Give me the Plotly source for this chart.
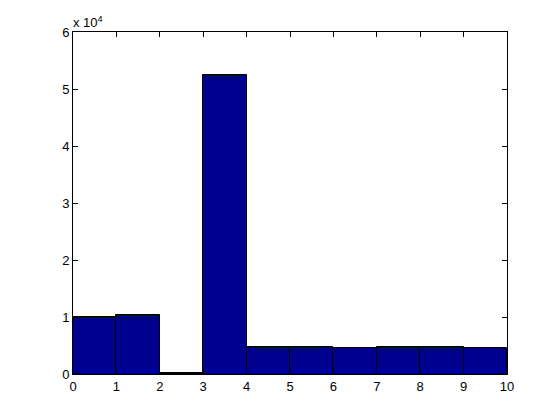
import plotly.graph_objects as go

bin_centers = [0.5, 1.5, 2.5, 3.5, 4.5, 5.5, 6.5, 7.5, 8.5, 9.5]
counts = [9950, 10400, 100, 52500, 4750, 4750, 4500, 4750, 4750, 4500]
y_tick_vals = [0, 10000, 20000, 30000, 40000, 50000, 60000]
y_tick_text = ["0", "1", "2", "3", "4", "5", "6"]
x_tick_vals = list(range(0, 11))

FONT = "Liberation Sans, Arial, sans-serif"

fig = go.Figure()
fig.add_trace(go.Bar(
    x=bin_centers, y=counts, width=1,
    marker=dict(color="#00008F", line=dict(color="black", width=1)),
))

axis_common = dict(
    showgrid=False, zeroline=False, showline=True, linecolor="black", linewidth=1,
    mirror="ticks", ticks="inside", ticklen=5, tickcolor="black", tickwidth=1,
    tickfont=dict(family=FONT, size=13, color="black"),
)

fig.update_layout(
    width=544, height=404,
    margin=dict(l=65, r=45, t=24, b=38),
    paper_bgcolor="white", plot_bgcolor="white",
    showlegend=False, bargap=0,
    xaxis=dict(range=[0, 10], tickvals=x_tick_vals, **axis_common),
    yaxis=dict(range=[0, 60000], tickvals=y_tick_vals, ticktext=y_tick_text, **axis_common),
    annotations=[dict(
        text="x 10<sup>4</sup>", xref="paper", yref="paper", x=0, y=1,
        xanchor="left", yanchor="bottom", showarrow=False, yshift=0, xshift=-2,
        font=dict(family=FONT, size=13, color="black"),
    )],
)

fig.write_html("out.html")
